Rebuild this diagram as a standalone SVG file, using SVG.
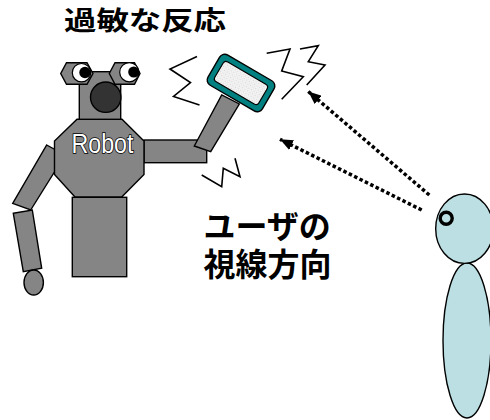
<svg xmlns="http://www.w3.org/2000/svg" width="490" height="420" viewBox="0 0 490 420">
  <defs>
    <style>
      .metal { fill: #858585; stroke: #000; stroke-width: 1.4; stroke-linejoin: miter; }
      .zig { fill: none; stroke: #000; stroke-width: 1.6; stroke-linejoin: miter; }
      .skin { fill: #bbdfe3; stroke: #000; stroke-width: 1.4; }
      .gaze { fill: none; stroke: #000; stroke-width: 3.5; stroke-dasharray: 3.5 2.5; }
      .jp { font-family: "Noto Sans CJK JP", "Noto Sans CJK SC", sans-serif; font-weight: bold; fill: #000; }
    </style>
    <pattern id="screenDots" width="3" height="3" patternUnits="userSpaceOnUse">
      <rect width="3" height="3" fill="#f4f4f4"/>
      <rect x="0" y="0" width="1" height="1" fill="#d6d6d6"/>
      <rect x="1.5" y="1.5" width="1" height="1" fill="#dedede"/>
    </pattern>
    <marker id="head" viewBox="0 0 12 10" markerWidth="13" markerHeight="11" refX="12" refY="5" orient="auto" markerUnits="userSpaceOnUse">
      <path d="M0,0 L12,5 L0,10 z" fill="#000"/>
    </marker>
  </defs>

  <rect width="490" height="420" fill="#fff"/>

  <!-- robot -->
  <g id="robot">
    <!-- left arm and hand -->
    <polygon class="metal" points="13.3,213.3 32.3,210 41.7,268.3 23.3,271.7"/>
    <ellipse class="metal" cx="33.7" cy="282.5" rx="9.7" ry="12.5"/>
    <polygon class="metal" points="46.7,145 65,155 30.7,210 12.7,203.3"/>
    <!-- legs -->
    <rect class="metal" x="72.3" y="197.3" width="54.4" height="79.4"/>
    <!-- right arm -->
    <rect class="metal" x="144" y="140" width="62.7" height="22.7"/>
    <polygon class="metal" points="194.3,146 210.7,151.7 239.3,104 221.7,95"/>
    <!-- torso -->
    <polygon class="metal" points="77,119.3 122,119.3 144,141 144,174.5 121.7,197 75,197 54.5,174.5 54.5,141"/>
    <text x="71.5" y="153.3" textLength="62" lengthAdjust="spacingAndGlyphs" font-family="Liberation Sans, Arial, sans-serif" font-size="27" fill="#fff" stroke="#000" stroke-width="1.6" paint-order="stroke">Robot</text>
    <!-- head -->
    <rect class="metal" x="79.3" y="71.7" width="41.4" height="47.6"/>
    <circle cx="105.7" cy="97.2" r="15.2" fill="#333" stroke="#000" stroke-width="1.4"/>
    <polygon class="metal" points="60.7,73.5 66.5,62.7 87,62.7 93,73.5 87,84.3 66.5,84.3"/>
    <polygon class="metal" points="109.3,73.5 115,62.7 134.5,62.7 140,73.5 134.5,84.3 115,84.3"/>
    <circle cx="81.5" cy="72.7" r="9.2" fill="#fff" stroke="#000" stroke-width="1.2"/>
    <circle cx="85" cy="72.5" r="5.7" fill="#000"/>
    <circle cx="129.3" cy="72.2" r="9.6" fill="#fff" stroke="#000" stroke-width="1.2"/>
    <circle cx="133.8" cy="72" r="5.6" fill="#000"/>
  </g>

  <!-- handheld device -->
  <g id="device" transform="translate(241,83) rotate(30.3)">
    <rect x="-31.5" y="-17.5" width="63" height="35" rx="6" ry="6" fill="#008080" stroke="#000" stroke-width="1.4"/>
    <rect x="-25.5" y="-11.5" width="51" height="23" rx="3.5" ry="3.5" fill="url(#screenDots)" stroke="#000" stroke-width="1.2"/>
  </g>

  <!-- agitation marks -->
  <g id="shakes">
    <polyline class="zig" points="197,56.5 170,69 190.5,82.5 173.5,96.5 199.5,105"/>
    <polyline class="zig" points="266.7,53.3 290,49 281.7,71 303.3,76.7 281.7,99.3"/>
    <polyline class="zig" points="300,49 318.3,45.7 308.3,61.7 325,65 306.7,85"/>
    <polyline class="zig" points="201.7,175 221.7,186.7 223.3,168.3 240,176.7 235,158.3"/>
  </g>

  <!-- user -->
  <g id="user">
    <ellipse class="skin" cx="467" cy="340.5" rx="24" ry="77.5"/>
    <ellipse class="skin" cx="464.5" cy="228.7" rx="28.8" ry="34.7"/>
    <circle cx="446.2" cy="218.3" r="6" fill="#bbdfe3" stroke="#000" stroke-width="3.4"/>
  </g>

  <!-- lines of sight -->
  <g id="connectors">
    <line class="gaze" x1="429.3" y1="195" x2="308.3" y2="91.5" marker-end="url(#head)"/>
    <line class="gaze" x1="421.7" y1="210" x2="280" y2="139.3" marker-end="url(#head)"/>
  </g>

  <!-- labels -->
  <g id="label-reaction">
    <text class="jp" x="64" y="30" font-size="26" textLength="162" lengthAdjust="spacingAndGlyphs">過敏な反応</text>
  </g>
  <g id="label-gaze">
    <text class="jp" font-size="32"><tspan x="203.5" y="238">ユーザの</tspan><tspan x="203.5" y="276">視線方向</tspan></text>
  </g>
</svg>
